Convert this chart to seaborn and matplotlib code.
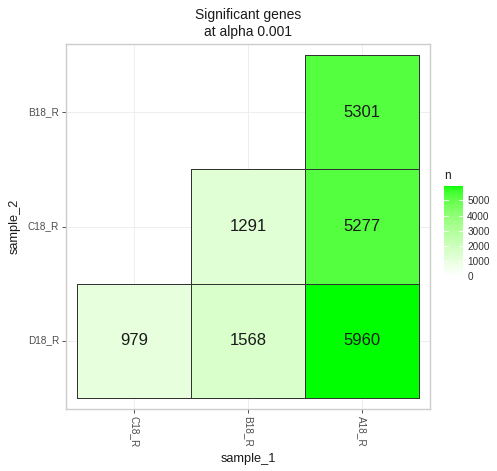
import numpy as np
import pandas as pd
import matplotlib
matplotlib.use("Agg")
import matplotlib.pyplot as plt
import seaborn as sns
from matplotlib.colors import ListedColormap

# ---- data ----
sample_1 = ["A18_R", "A18_R", "A18_R", "B18_R", "B18_R", "C18_R"]
sample_2 = ["B18_R", "C18_R", "D18_R", "C18_R", "D18_R", "D18_R"]
n_values = [5301, 5277, 5960, 1291, 1568, 979]
x_order = ["C18_R", "B18_R", "A18_R"]
y_order = ["B18_R", "C18_R", "D18_R"]   # top to bottom
title_text = "Significant genes\nat alpha 0.001"
cbar_ticks = [0, 1000, 2000, 3000, 4000, 5000]

df = pd.DataFrame({"sample_1": sample_1, "sample_2": sample_2, "n": n_values})
mat = df.pivot(index="sample_2", columns="sample_1", values="n").reindex(index=y_order, columns=x_order)

# ---- Lab-interpolated white -> green colormap (like ggplot scale_fill_gradient) ----
M = np.array([[0.4124, 0.3576, 0.1805], [0.2126, 0.7152, 0.0722], [0.0193, 0.1192, 0.9505]])
WP = np.array([0.95047, 1.0, 1.08883])

def srgb_to_lab(rgb):
    rgb = np.asarray(rgb, float)
    lin = np.where(rgb <= 0.04045, rgb / 12.92, ((rgb + 0.055) / 1.055) ** 2.4)
    t = (M @ lin) / WP
    f = np.where(t > (6 / 29) ** 3, np.cbrt(t), t / (3 * (6 / 29) ** 2) + 4 / 29)
    return np.array([116 * f[1] - 16, 500 * (f[0] - f[1]), 200 * (f[1] - f[2])])

def lab_to_srgb(lab):
    L, a, b = lab
    fy = (L + 16) / 116
    fx = fy + a / 500
    fz = fy - b / 200
    def finv(f):
        return np.where(f > 6 / 29, f ** 3, 3 * (6 / 29) ** 2 * (f - 4 / 29))
    xyz = np.array([finv(fx), finv(fy), finv(fz)]) * WP
    lin = np.clip(np.linalg.inv(M) @ xyz, 0, 1)
    rgb = np.where(lin <= 0.0031308, 12.92 * lin, 1.055 * lin ** (1 / 2.4) - 0.055)
    return np.clip(rgb, 0, 1)

lab_lo = srgb_to_lab([1, 1, 1])
lab_hi = srgb_to_lab([0, 1, 0])
cols = [lab_to_srgb(lab_lo + (lab_hi - lab_lo) * t) for t in np.linspace(0, 1, 256)]
cmap = ListedColormap(cols)

# ---- figure ----
W, H = 497, 471
fig = plt.figure(figsize=(W / 100, H / 100), dpi=100)
plt.rcParams["font.family"] = ["Liberation Sans", "DejaVu Sans"]

ax = fig.add_axes([66 / W, 1 - 409 / H, 364 / W, 365 / H])
cax = fig.add_axes([444 / W, 1 - 276 / H, 19 / W, 90 / H])

ax.set_axisbelow(True)
sns.heatmap(mat, ax=ax, cmap=cmap, vmin=0, vmax=5960, cbar_ax=cax,
            annot=True, fmt=".0f", linewidths=0.7, linecolor="#333333",
            annot_kws={"fontsize": 12, "color": "#1a1a1a", "family": "Liberation Sans"})

# no outline on empty (masked) cells
mesh = ax.collections[0]
mask = np.ma.getmaskarray(mesh.get_array()).ravel()
mesh.set_edgecolor([(0, 0, 0, 0) if m else (0.2, 0.2, 0.2, 1) for m in mask])

ax.set_xlim(-0.1, 3.1)
ax.set_ylim(3.1, -0.1)
ax.set_xticks(np.arange(3) + 0.5)
ax.set_yticks(np.arange(3) + 0.5)
ax.set_xticklabels(x_order, rotation=270, ha="center", va="top", fontsize=7.2, color="#4d4d4d")
ax.set_yticklabels(y_order, rotation=0, fontsize=7.2, color="#4d4d4d")
ax.tick_params(axis="both", length=3, width=0.6, color="#333333", pad=2)
ax.grid(True, color="#ebebeb", linewidth=0.6)
for s in ax.spines.values():
    s.set_visible(True)
    s.set_color("#cccccc")
    s.set_linewidth(1.0)

ax.set_xlabel("sample_1", fontsize=9.2, color="#1a1a1a", labelpad=4)
ax.set_ylabel("sample_2", fontsize=9.2, color="#1a1a1a", labelpad=5)
ax.set_title(title_text, fontsize=10, color="#1a1a1a", linespacing=1.25, pad=6)

# colorbar styling
cax.set_yticks(cbar_ticks)
cax.set_yticklabels([str(t) for t in cbar_ticks], fontsize=7.2, color="#333333")
cax.tick_params(axis="y", length=0, pad=3)
for t in cbar_ticks:
    cax.plot([0, 0.2], [t, t], color="white", linewidth=0.6, transform=cax.get_yaxis_transform())
    cax.plot([0.8, 1], [t, t], color="white", linewidth=0.6, transform=cax.get_yaxis_transform())
cax.set_title("n", fontsize=8.5, color="#1a1a1a", loc="left", pad=5)

fig.savefig("out.png", dpi=100, facecolor="white")
